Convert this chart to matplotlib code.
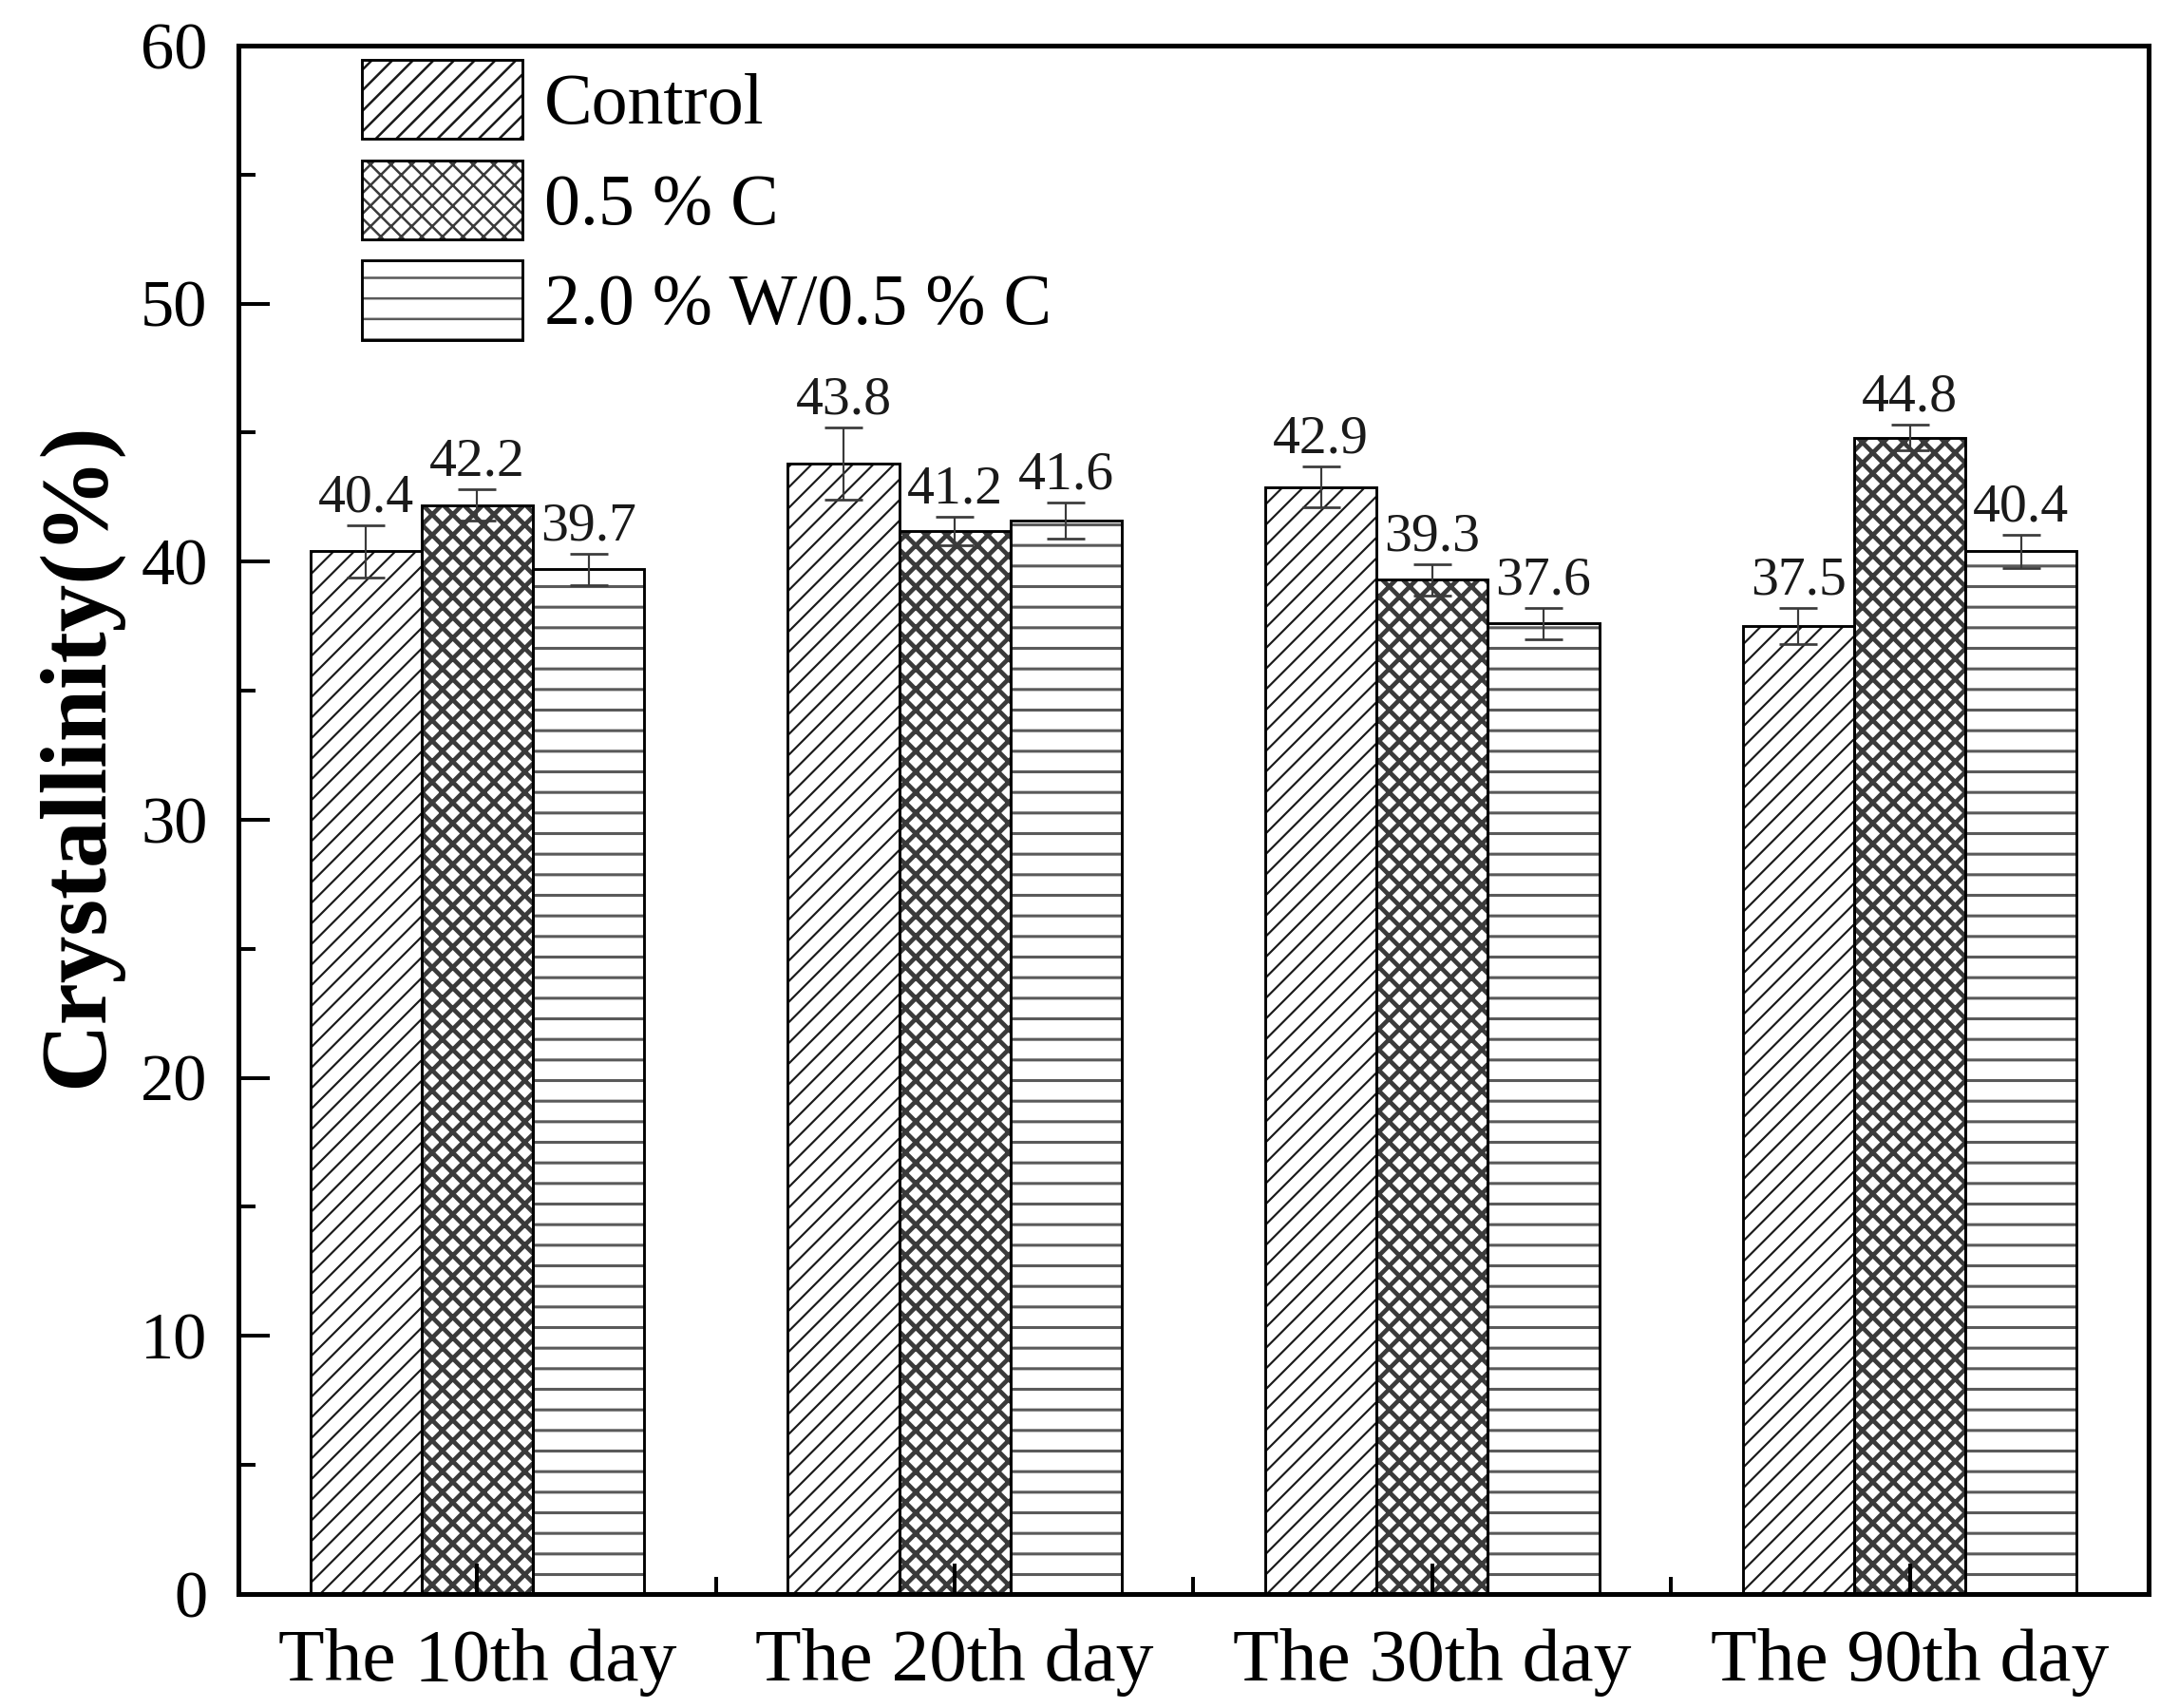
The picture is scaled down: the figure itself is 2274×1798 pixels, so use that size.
import numpy as np
import matplotlib
matplotlib.use('Agg')
import matplotlib.pyplot as plt
from matplotlib.patches import Patch
from matplotlib.legend_handler import HandlerTuple
from matplotlib.ticker import MultipleLocator, FixedLocator

# ---------------- data ----------------
categories = ['The 10th day', 'The 20th day', 'The 30th day', 'The 90th day']
series_names = ['Control', '0.5 % C', '2.0 % W/0.5 % C']
control = [40.4, 43.8, 42.9, 37.5]
c05 = [42.2, 41.2, 39.3, 44.8]
w20_c05 = [39.7, 41.6, 37.6, 40.4]
control_err = [1.0, 1.4, 0.8, 0.7]
c05_err = [0.6, 0.55, 0.6, 0.5]
w20_c05_err = [0.6, 0.7, 0.6, 0.65]
y_ticks = [0, 10, 20, 30, 40, 50, 60]

# ---------------- style ----------------
DPI = 130
plt.rcParams['font.family'] = ['Liberation Serif', 'DejaVu Serif']
plt.rcParams['hatch.linewidth'] = 1.4

hatches = ['//', 'xx', '-']
hatch_colors = ['#1a1a1a', '#3a3a3a', '#5a5a5a']
hatch_lws = [1.2, 2.6, 1.7]

fig = plt.figure(figsize=(2274 / DPI, 1798 / DPI), dpi=DPI)
ax = fig.add_axes([0.1104, 0.0668, 0.8843, 0.9065])

x = np.arange(len(categories))
width = 0.233
values = [control, c05, w20_c05]
errors = [control_err, c05_err, w20_c05_err]

handles = []
for i, (vals, errs) in enumerate(zip(values, errors)):
    pos = x + (i - 1) * width
    hb = ax.bar(pos, vals, width, color='white', edgecolor=hatch_colors[i],
                hatch=hatches[i], linewidth=0, zorder=1)
    for p in hb.patches:
        if hasattr(p, 'set_hatch_linewidth'):
            p.set_hatch_linewidth(hatch_lws[i])
    ax.bar(pos, vals, width, fill=False, edgecolor='black',
           linewidth=1.6, zorder=1.2)
    ax.errorbar(pos, vals, yerr=errs, fmt='none', ecolor='#3a3a3a',
                elinewidth=1.2, capsize=11, capthick=1.5, zorder=3)
    for xp, v, e in zip(pos, vals, errs):
        ax.annotate(f'{v:.1f}', xy=(xp, v + e), xytext=(0, 8),
                    textcoords='offset points', ha='center', va='baseline',
                    fontsize=32, color='#1a1a1a')
    hp = Patch(facecolor='white', edgecolor=hatch_colors[i], hatch=hatches[i],
               linewidth=0)
    if hasattr(hp, 'set_hatch_linewidth'):
        hp.set_hatch_linewidth(hatch_lws[i])
    op = Patch(facecolor='none', edgecolor='black', linewidth=1.6)
    handles.append((hp, op))

ax.set_xlim(-0.5, 3.5)
ax.set_ylim(0, 60)
ax.set_xticks(x)
ax.set_xticklabels(categories, fontsize=44)
ax.xaxis.set_minor_locator(FixedLocator([0.5, 1.5, 2.5]))
ax.yaxis.set_major_locator(FixedLocator(y_ticks))
ax.yaxis.set_minor_locator(MultipleLocator(5))
ax.tick_params(axis='both', which='both', direction='in', top=False, right=False)
ax.tick_params(axis='both', which='major', length=18, width=2.2)
ax.tick_params(axis='both', which='minor', length=10, width=2.2)
ax.tick_params(axis='y', which='major', labelsize=39, pad=18)
ax.tick_params(axis='x', which='major', pad=20)
for s in ax.spines.values():
    s.set_linewidth(2.8)

ax.set_ylabel('Crystallinity(%)', fontsize=55, fontweight='bold')
ax.yaxis.set_label_coords(-0.061, 0.542)

leg = ax.legend(handles, series_names, handler_map={tuple: HandlerTuple(ndivide=1, pad=0)},
                loc='upper left', bbox_to_anchor=(0.0646, 0.991), frameon=False,
                fontsize=42, handlelength=2.23, handleheight=1.31,
                labelspacing=0.3, handletextpad=0.3, borderpad=0, borderaxespad=0)

fig.savefig('out.png', dpi=DPI)
